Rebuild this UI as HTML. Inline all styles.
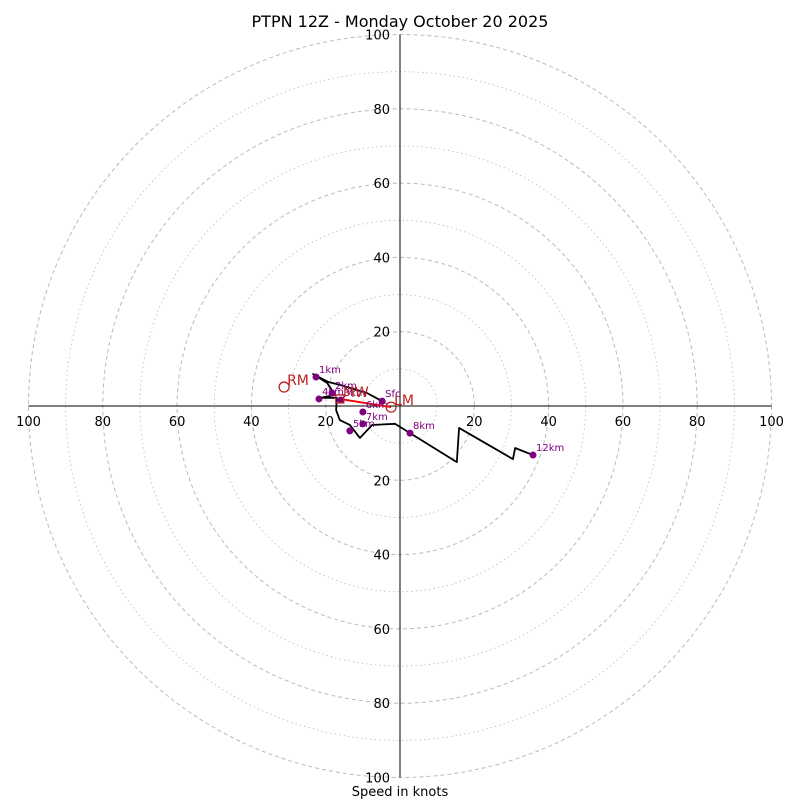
<!DOCTYPE html>
<html><head><meta charset="utf-8"><style>
body{margin:0;background:#fff}
svg{display:block;font-family:"DejaVu Sans","Liberation Sans",sans-serif}
</style></head><body>
<svg id="c" width="800" height="800"></svg>
<script>
const ringValues=[10,20,30,40,50,60,70,80,90,100];
const tickLabels=[20,40,60,80,100];
const pathU=[-4.8,-8.9,-16.2,-19.4,-23.4,-19.6,-17.5,-21.5,-17.0,-17.2,-16.2,-13.5,-10.8,-7.5,-1.3,15.3,15.9,30.4,31.0,35.8];
const pathV=[1.3,3.5,5.7,6.5,8.6,6.2,3.0,2.2,2.2,-1.1,-3.8,-5.1,-8.6,-5.1,-4.8,-15.1,-5.9,-14.3,-11.3,-13.2];
const markerLabels=["Sfc","1km","2km","3km","4km","5km","6km","7km","8km","12km"];
const markerU=[-4.8,-22.6,-18.3,-15.9,-21.8,-13.5,-10.0,-10.0,2.7,35.8];
const markerV=[1.3,7.8,3.5,1.6,1.9,-6.7,-1.6,-4.8,-7.3,-13.2];
const motionLabels=["RM","LM","MW"];
const motionU=[-31.2,-2.4,-16.2];
const motionV=[5.1,-0.3,1.9];
const cx=400,cy=406,s=3.715;
const X=u=>cx+u*s, Y=v=>cy-v*s;
const svg=document.getElementById('c');
const NS='http://www.w3.org/2000/svg';
function mk(t,a,p){const e=document.createElementNS(NS,t);for(const k in a)e.setAttribute(k,a[k]);(p||svg).appendChild(e);return e;}
ringValues.forEach(r=>{
  const e=mk('circle',{cx:cx,cy:cy,r:r*s,fill:'none',stroke:'#bbb','stroke-width':r%20?0.8:1,'stroke-dasharray':r%20?'1.5,3':'4,3'});
  
  
});
let a=mk('line',{x1:X(-100),y1:cy,x2:X(100),y2:cy,stroke:'#000','stroke-width':1});


a=mk('line',{x1:cx,y1:Y(100),x2:cx,y2:Y(-100),stroke:'#000','stroke-width':1});


tickLabels.forEach(t=>{
  [-1,1].forEach(sg=>{
    let e=mk('text',{x:X(sg*t),y:cy+20,'text-anchor':'middle','font-size':13});e.textContent=t;
    
    
    e=mk('text',{x:cx-10,y:Y(sg*t)+5,'text-anchor':'end','font-size':13});e.textContent=t;
    
    
  });
});
let pts=pathU.map((u,i)=>X(u)+','+Y(pathV[i])).join(' ');
let pl=mk('polyline',{points:pts,fill:'none',stroke:'#000','stroke-width':1.8,'stroke-linejoin':'round'});


let ar=mk('line',{x1:X(motionU[1]),y1:Y(motionV[1]),x2:X(motionU[2]),y2:Y(motionV[2]),stroke:'#e00','stroke-width':1.8});


markerU.forEach((u,i)=>{
  let c=mk('circle',{cx:X(u),cy:Y(markerV[i]),r:3.5,fill:'#800080'});
  
  
  let t=mk('text',{x:X(u)+3,y:Y(markerV[i])-4,'font-size':10,fill:'#800080'});t.textContent=markerLabels[i];
  
  
});
motionU.forEach((u,i)=>{
  let e;
  if(motionLabels[i]==='MW') e=mk('rect',{x:X(u)-4,y:Y(motionV[i])-4,width:8,height:8,fill:'none',stroke:'#b22',"stroke-width":1.3});
  else e=mk('circle',{cx:X(u),cy:Y(motionV[i]),r:5,fill:'none',stroke:'#b22','stroke-width':1.3});
  
  
  let t=mk('text',{x:X(u)+3,y:Y(motionV[i])-2,'font-size':14,fill:'#b22'});t.textContent=motionLabels[i];
  
  
});
let ti=mk('text',{x:400,y:27,'text-anchor':'middle','font-size':16});ti.textContent='PTPN 12Z - Monday October 20 2025';


let xl=mk('text',{x:400,y:796,'text-anchor':'middle','font-size':13});xl.textContent='Speed in knots';


</script>
</body></html>
